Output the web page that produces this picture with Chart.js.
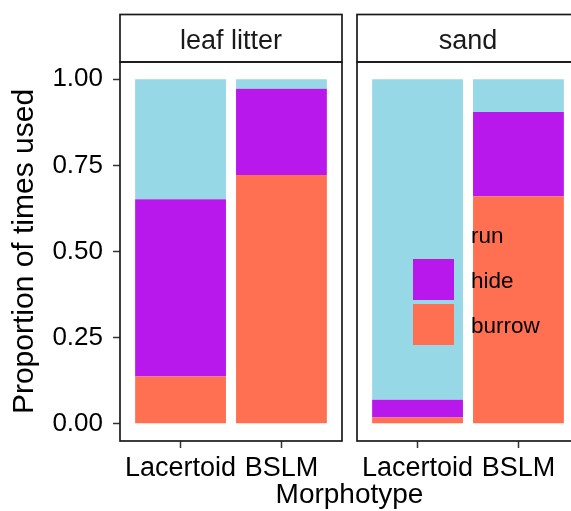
<!DOCTYPE html>
<html><head><meta charset="utf-8">
<script src="https://cdn.jsdelivr.net/npm/chart.js@4/dist/chart.umd.min.js"></script>
<style>html,body{margin:0;padding:0;overflow:hidden;background:#fff;width:571px;height:511px}canvas{display:block}</style>
</head><body><canvas id="c" width="600" height="511"></canvas>
<script>
// ---- data ----
const facets = ['leaf litter', 'sand'];
const categories = ['Lacertoid', 'BSLM'];
const seriesNames = ['burrow', 'hide', 'run'];
const burrow = [[0.137, 0.722], [0.018, 0.660]];
const hide   = [[0.515, 0.250], [0.052, 0.245]];
const run    = [[0.348, 0.028], [0.930, 0.095]];
const yTicks = [0, 0.25, 0.50, 0.75, 1.00];
const yTitle = 'Proportion of times used';
const xTitle = 'Morphotype';
const seriesColors = ['#FF6F52', '#B818EB', '#97D8E6'];

// ---- layout helpers ----
const FONT = '"Liberation Sans", Arial, Helvetica, sans-serif';
const facetWidth = categories.length + 0.2;   // discrete expansion 0.6 each side
const facetGap = 0.1487;
const facetSpan = facetWidth + facetGap;
const xPos = (f, i) => 1 + i + f * facetSpan;

const seriesValues = [burrow, hide, run];
const datasets = seriesNames.map((name, s) => {
  const pts = [];
  facets.forEach((fn, f) => categories.forEach((c, i) => pts.push({x: xPos(f, i), y: seriesValues[s][f][i]})));
  return {label: name, data: pts, backgroundColor: seriesColors[s], borderWidth: 0,
          barPercentage: 0.9, categoryPercentage: 1.0};
});
const xTickVals = [];
facets.forEach((fn, f) => categories.forEach((c, i) => xTickVals.push(xPos(f, i))));

const panelPlugin = {
  id: 'panels',
  afterDraw(chart) {
    const ctx = chart.ctx, ca = chart.chartArea, xs = chart.scales.x;
    ctx.save();
    ctx.strokeStyle = '#1a1a1a';
    ctx.lineWidth = 1.7;
    facets.forEach((name, f) => {
      const l = xs.getPixelForValue(0.4 + f * facetSpan);
      const r = xs.getPixelForValue(0.4 + facetWidth + f * facetSpan);
      ctx.strokeRect(l, ca.top, r - l, ca.bottom - ca.top);
      ctx.strokeRect(l, 14.5, r - l, ca.top - 14.5);
      ctx.fillStyle = '#1a1a1a';
      ctx.font = '27px ' + FONT;
      ctx.textAlign = 'center';
      ctx.textBaseline = 'alphabetic';
      ctx.fillText(name, (l + r) / 2, 49);
    });
    // legend
    const keyLeft = 413, keyTop = 214, keySize = 41, step = 45;
    const order = seriesNames.map((n, i) => i).reverse();
    ctx.font = '22.5px ' + FONT;
    ctx.textAlign = 'left';
    order.forEach((s, k) => {
      const y = keyTop + k * step;
      ctx.fillStyle = seriesColors[s];
      ctx.fillRect(keyLeft, y, keySize, keySize);
      ctx.fillStyle = '#000';
      ctx.fillText(seriesNames[s], keyLeft + keySize + 17, y + keySize / 2 + 8.5);
    });
    ctx.restore();
  }
};

new Chart(document.getElementById('c'), {
  type: 'bar',
  data: {datasets},
  plugins: [panelPlugin],
  options: {
    responsive: false, animation: false, devicePixelRatio: 1,
    layout: {padding: {top: 62, right: 21, left: 0, bottom: 0}},
    plugins: {legend: {display: false}, tooltip: {enabled: false}},
    scales: {
      x: {
        type: 'linear', stacked: true, offset: false,
        min: 0.4, max: 0.4 + facetWidth * facets.length + facetGap * (facets.length - 1),
        afterBuildTicks: s => { s.ticks = xTickVals.map(v => ({value: v})); },
        afterFit: s => { s.height = 70; },
        ticks: {autoSkip: false, maxRotation: 0, padding: 4, color: '#000',
                font: {family: FONT, size: 27},
                callback: (v, i) => categories[i % categories.length]},
        grid: {offset: false, drawOnChartArea: false, drawTicks: true, tickLength: 7, tickColor: '#333', tickWidth: 1.5},
        border: {display: false},
        title: {display: true, text: xTitle, color: '#000', font: {family: FONT, size: 28, lineHeight: 1},
                padding: {top: 0, bottom: 2}}
      },
      y: {
        stacked: true, min: -0.05, max: 1.05,
        afterBuildTicks: s => { s.ticks = yTicks.map(v => ({value: v})); },
        afterFit: s => { s.width = 120; },
        ticks: {padding: 10, color: '#000', font: {family: FONT, size: 26},
                callback: v => Number(v).toFixed(2)},
        grid: {drawOnChartArea: false, drawTicks: true, tickLength: 7, tickColor: '#333', tickWidth: 1.5},
        border: {display: false},
        title: {display: true, text: yTitle, color: '#000', font: {family: FONT, size: 30, lineHeight: 1},
                padding: {top: 9.5, bottom: 0}}
      }
    }
  }
});
</script></body></html>
